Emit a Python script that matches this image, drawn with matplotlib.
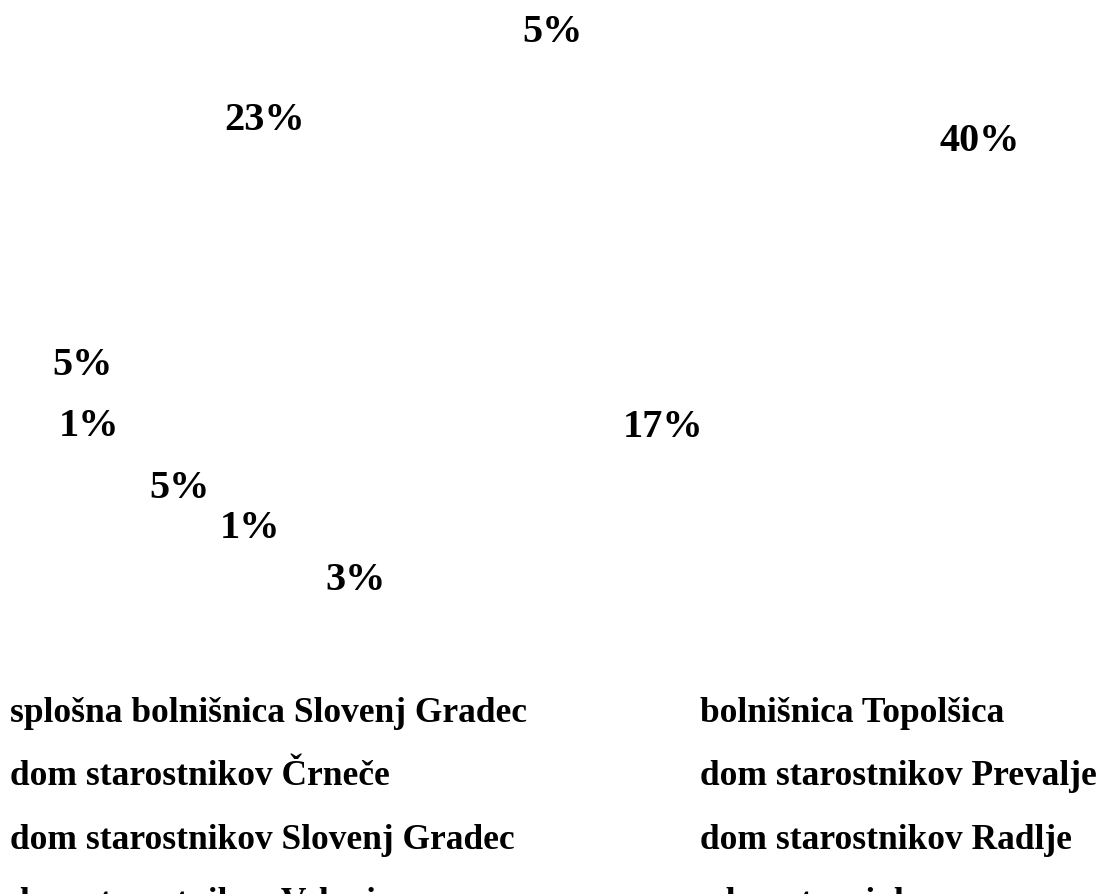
import matplotlib.pyplot as plt
import numpy as np

# podatki (v vrstnem redu rezin, v smeri urinega kazalca od vrha)
categories = [
    "splošna bolnišnica Slovenj Gradec",
    "bolnišnica Topolšica",
    "dom starostnikov Črneče",
    "dom starostnikov Prevalje",
    "dom starostnikov Slovenj Gradec",
    "dom starostnikov Radlje",
    "dom starostnikov Velenje",
    "zdravstveni dom",
    "drugo",
]
shares = [40, 17, 3, 1, 5, 1, 5, 23, 5]

# oddaljenost oznak od središča (v polmerih) in popravek v pikslih
label_radius = [0.96, 0.65, 1.29, 1.28, 1.30, 1.36, 1.27, 0.91, 0.78]
label_nudge = [(-10, 24), (37, 7), (36, -14), (-15, 10), (-4, 7),
               (-11, 21), (-7, 7), (-1, -2), (5, -2)]

plt.rcParams['font.family'] = ['Liberation Serif', 'DejaVu Serif']

fig = plt.figure(figsize=(11.03, 8.95), dpi=100)
ax = fig.add_axes([0.0794, 0.3385, 0.929, 0.764])

wedges, _ = ax.pie(shares, startangle=90, counterclock=False,
                   colors=['white'] * len(shares),
                   wedgeprops=dict(edgecolor='none'))
ax.set_aspect('auto')
ax.set_xlim(-1.2, 1.2)
ax.set_ylim(-1.2, 1.2)
ax.axis('off')

for w, val, r, nd in zip(wedges, shares, label_radius, label_nudge):
    mid = np.deg2rad((w.theta1 + w.theta2) / 2)
    ax.annotate(f"{val}%", (r * np.cos(mid), r * np.sin(mid)),
                xytext=nd, textcoords='offset pixels',
                ha='center', va='center', fontsize=29, fontweight='bold')

# legenda: dva stolpca, razporejena po vrsticah
order = [0, 2, 4, 6, 8, 1, 3, 5, 7]
fig.legend([wedges[i] for i in order], [categories[i] for i in order],
           ncol=2, loc='upper left', bbox_to_anchor=(10 / 1103, 1 - 697 / 895),
           frameon=False, handlelength=0, handletextpad=0, borderpad=0,
           borderaxespad=0, columnspacing=4.88, labelspacing=0.86,
           prop=dict(size=25.5, weight='bold'))

fig.savefig('out.png', dpi=100)
